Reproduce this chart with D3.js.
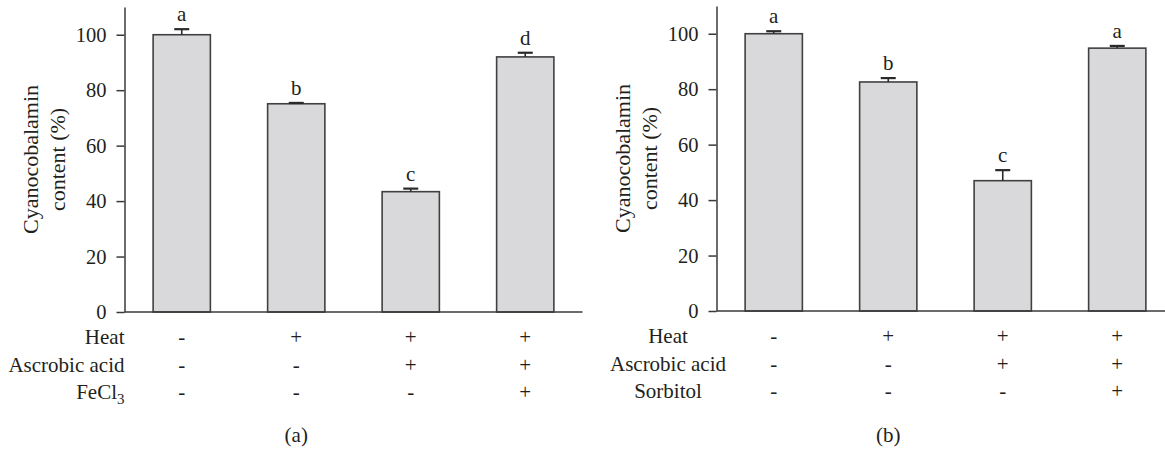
<!DOCTYPE html>
<html>
<head>
	<meta charset="utf-8">
	<title>Cyanocobalamin content</title>
	<script src="https://cdn.jsdelivr.net/npm/d3@7/dist/d3.min.js"></script>
	<style type="text/css">
		html, body {
			margin: 0;
			padding: 0;
			background: white;
		}
		.axis path, .axis line {
			stroke: #3a3a3a;
			stroke-width: 1.5px;
		}
	</style>
</head>
<body>

<div id="vis"></div>

<script type="text/javascript">

// data
var groups = ["g1", "g2", "g3", "g4"];
var yTicks = [0, 20, 40, 60, 80, 100];

var valuesA = [100, 75.1, 43.4, 92.0];
var errorsA = [2.0, 0.3, 1.1, 1.5];
var lettersA = ["a", "b", "c", "d"];

var valuesB = [100, 82.6, 47.0, 94.8];
var errorsB = [0.9, 1.4, 3.8, 0.8];
var lettersB = ["a", "b", "c", "a"];

var heatSigns = ["-", "+", "+", "+"];
var ascorbicSigns = ["-", "-", "+", "+"];
var thirdSigns = ["-", "-", "-", "+"];

var width = 1165;
var height = 449;
var serif = "'Liberation Serif', 'DejaVu Serif', serif";

var svg = d3.select("#vis")
	.append("svg")
	.attr("width", width)
	.attr("height", height)
	.style("font-family", serif);

var panels = [
	{
		x0: 124.5, zero: 312, top: 7,
		values: valuesA, errors: errorsA, letters: lettersA,
		rows: [["Heat"], ["Ascrobic acid"], ["FeCl", "3"]],
		rowX: 124.5, rowAnchor: "end",
		caption: "(a)"
	},
	{
		x0: 716.5, zero: 311, top: 6,
		values: valuesB, errors: errorsB, letters: lettersB,
		rows: [["Heat"], ["Ascrobic acid"], ["Sorbitol"]],
		rowX: 668, rowAnchor: "middle",
		caption: "(b)"
	}
];

function addText(sel, size) {
	return sel.append("text")
		.style("font-family", serif)
		.style("font-size", (size || 20) + "px")
		.style("fill", "#231f20");
}

panels.forEach(function(p) {

	var x = d3.scaleBand()
		.domain(groups)
		.range([p.x0, p.x0 + 458])
		.paddingInner(0.5)
		.paddingOuter(0.25);

	var y = d3.scaleLinear()
		.domain([0, 110])
		.range([p.zero, p.top]);

	var g = svg.append("g");

	// bars
	g.selectAll(".bar")
		.data(groups)
		.enter().append("rect")
		.attr("class", "bar")
		.attr("x", function(d) { return x(d); })
		.attr("y", function(d, i) { return y(p.values[i]); })
		.attr("width", x.bandwidth())
		.attr("height", function(d, i) { return y(0) - y(p.values[i]); })
		.style("fill", "#d9d9db")
		.style("stroke", "#404040")
		.style("stroke-width", 1.6);

	// error bars (upper only)
	var err = g.selectAll(".err")
		.data(groups)
		.enter().append("g")
		.attr("class", "err")
		.attr("transform", function(d) { return "translate(" + (x(d) + x.bandwidth() / 2) + ",0)"; });

	err.append("line")
		.attr("y1", function(d, i) { return y(p.values[i]); })
		.attr("y2", function(d, i) { return y(p.values[i] + p.errors[i]); })
		.style("stroke", "#2a2a2a")
		.style("stroke-width", 1.6);

	err.append("line")
		.attr("x1", -7.5)
		.attr("x2", 7.5)
		.attr("y1", function(d, i) { return y(p.values[i] + p.errors[i]); })
		.attr("y2", function(d, i) { return y(p.values[i] + p.errors[i]); })
		.style("stroke", "#2a2a2a")
		.style("stroke-width", 2.2);

	addText(err, 21)
		.attr("y", function(d, i) { return y(p.values[i] + p.errors[i]) - 8; })
		.attr("text-anchor", "middle")
		.text(function(d, i) { return p.letters[i]; });

	// axes
	var ax = g.append("g")
		.attr("class", "axis")
		.attr("transform", "translate(" + p.x0 + ",0)")
		.call(d3.axisLeft(y).tickValues(yTicks).tickSize(8).tickPadding(10).tickSizeOuter(0));
	ax.attr("font-family", null).attr("font-size", null);
	ax.selectAll("text")
		.style("font-family", serif)
		.style("font-size", "20.5px")
		.style("fill", "#231f20");

	g.append("line")
		.attr("x1", p.x0)
		.attr("x2", p.x0 + 458)
		.attr("y1", y(0))
		.attr("y2", y(0))
		.style("stroke", "#3a3a3a")
		.style("stroke-width", 1.5);

	// y label
	var yl = addText(g, 22)
		.attr("transform", "translate(" + (p.x0 - 87) + "," + ((p.zero + p.top) / 2) + ") rotate(-90)")
		.attr("text-anchor", "middle");
	yl.append("tspan").attr("x", 0).attr("dy", 0).text("Cyanocobalamin");
	yl.append("tspan").attr("x", 0).attr("dy", 27).text("content (%)");

	// treatment table
	var signs = [heatSigns, ascorbicSigns, thirdSigns];
	p.rows.forEach(function(r, k) {
		var ry = p.zero + 32 + k * 27.5;
		var t = addText(g, 21)
			.attr("x", p.rowX)
			.attr("y", ry)
			.attr("text-anchor", p.rowAnchor);
		t.append("tspan").text(r[0]);
		if (r[1]) {
			t.append("tspan").attr("dy", 5).style("font-size", "15px").text(r[1]);
		}

		g.selectAll(".sign" + k)
			.data(groups)
			.enter().append("text")
			.attr("class", "sign" + k)
			.attr("x", function(d) { return x(d) + x.bandwidth() / 2; })
			.attr("y", ry)
			.attr("text-anchor", "middle")
			.style("font-family", serif)
			.style("font-size", "21px")
			.style("fill", "#231f20")
			.text(function(d, i) { return signs[k][i]; });
	});

	addText(g, 21)
		.attr("x", x(groups[1]) + x.bandwidth() / 2)
		.attr("y", 442)
		.attr("text-anchor", "middle")
		.text(p.caption);
});

</script>

</body>
</html>
